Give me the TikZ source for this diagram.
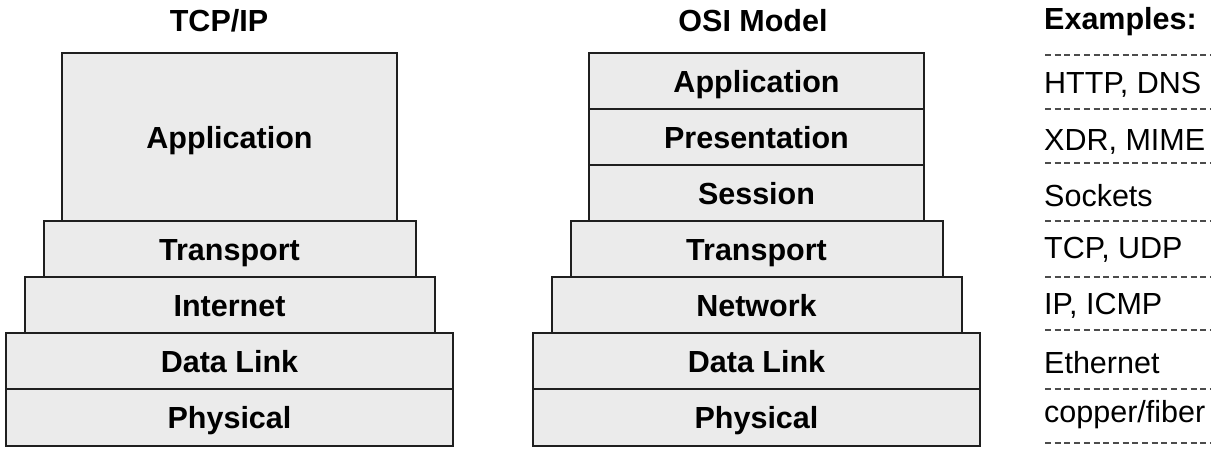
\documentclass[tikz,border=0pt]{standalone}
\usepackage{fontspec}
\setmainfont{Liberation Sans}
\begin{document}
\begin{tikzpicture}[x=1pt,y=-1pt,
  layer/.style={draw=black!88, fill=black!8, line width=2pt, rectangle,
    inner sep=0pt, text height=23pt, text depth=0pt,
    font=\fontsize{30.5}{30.5}\selectfont\bfseries},
  title/.style={anchor=base, inner sep=0pt, font=\fontsize{30.5}{30.5}\selectfont\bfseries},
  example/.style={anchor=base west, inner sep=0pt, font=\fontsize{30.5}{30.5}\selectfont},
  sep/.style={draw=black!70, line width=1.6pt, dash pattern=on 6pt off 3.7pt}]
\useasboundingbox (0,0) rectangle (1218,467);
% TCP/IP stack (centre x = 229.5)
\node[title] (ttitle) at (219,31) {TCP/IP};
\node[layer, minimum width=447pt, minimum height=56.5pt] (tphy) at (229.5,417.25) {Physical};
\node[layer, minimum width=447pt, minimum height=56pt] (tdl) at (229.5,361) {Data Link};
\node[layer, minimum width=410pt, minimum height=56pt] (tint) at (229.5,305) {Internet};
\node[layer, minimum width=372pt, minimum height=56pt] (ttra) at (229.5,249) {Transport};
\node[layer, minimum width=335pt, minimum height=168pt] (tapp) at (229.5,137) {Application};
% OSI stack (centre x = 756.5)
\node[title] (otitle) at (753,31) {OSI Model};
\node[layer, minimum width=447pt, minimum height=56.5pt] (ophy) at (756.5,417.25) {Physical};
\node[layer, minimum width=447pt, minimum height=56pt] (odl) at (756.5,361) {Data Link};
\node[layer, minimum width=410pt, minimum height=56pt] (onet) at (756.5,305) {Network};
\node[layer, minimum width=372pt, minimum height=56pt] (otra) at (756.5,249) {Transport};
\node[layer, minimum width=335pt, minimum height=56pt] (oses) at (756.5,193) {Session};
\node[layer, minimum width=335pt, minimum height=56pt] (opre) at (756.5,137) {Presentation};
\node[layer, minimum width=335pt, minimum height=56pt] (oapp) at (756.5,81) {Application};
% Examples column
\node[title, anchor=base west] (etitle) at (1044,29) {Examples:};
\node[example] (e1) at (1044,93) {HTTP, DNS};
\node[example] (e2) at (1044,150) {XDR, MIME};
\node[example] (e3) at (1044,206) {Sockets};
\node[example] (e4) at (1044,258) {TCP, UDP};
\node[example] (e5) at (1044,314) {IP, ICMP};
\node[example] (e6) at (1044,373) {Ethernet};
\node[example] (e7) at (1044,422) {copper/fiber};
\foreach \yy in {55,109,163,221,277,330,389,443}
  \draw[sep] (1045,\yy) -- (1210,\yy);
\end{tikzpicture}
\end{document}
